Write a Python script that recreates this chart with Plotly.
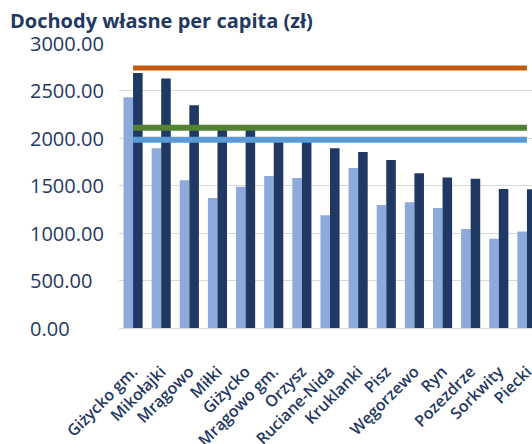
import plotly.graph_objects as go

categories = ["Giżycko gm.", "Mikołajki", "Mrągowo", "Miłki", "Giżycko", "Mrągowo gm.",
              "Orzysz", "Ruciane-Nida", "Kruklanki", "Pisz", "Węgorzewo", "Ryn",
              "Pozezdrze", "Sorkwity", "Piecki"]
values_earlier = [2430, 1892, 1555, 1368, 1487, 1600, 1579, 1186, 1685, 1294, 1323, 1263, 1041, 939, 1017]
values_later = [2683, 2627, 2346, 2120, 2100, 1990, 1970, 1892, 1853, 1769, 1628, 1583, 1572, 1463, 1460]
avg_orange = 2736
avg_green = 2107
avg_blue = 1982
y_ticks = [0, 500, 1000, 1500, 2000, 2500, 3000]
y_tick_labels = ["0.00", "500.00", "1000.00", "1500.00", "2000.00", "2500.00", "3000.00"]

NAVY = "#1F3864"
n = len(categories)
W, H = 532, 444
ML = 119

fig = go.Figure()
fig.add_trace(go.Bar(x=categories, y=values_earlier, name="Okres 1",
                     marker=dict(color="#8EA9DB", line=dict(width=0))))
fig.add_trace(go.Bar(x=categories, y=values_later, name="Okres 2",
                     marker=dict(color=NAVY, line=dict(width=0))))
fig.add_trace(go.Scatter(x=categories, y=[avg_orange] * n, mode="lines", name="Średnia A",
                         line=dict(color="#C55A11", width=5)))
fig.add_trace(go.Scatter(x=categories, y=[avg_green] * n, mode="lines", name="Średnia B",
                         line=dict(color="#548235", width=6)))
fig.add_trace(go.Scatter(x=categories, y=[avg_blue] * n, mode="lines", name="Średnia C",
                         line=dict(color="#5B9BD5", width=6)))

plot_w = W - ML
for v, lab in zip(y_ticks, y_tick_labels):
    fig.add_annotation(x=(28 - ML) / plot_w, xref="paper", xanchor="left",
                       y=v, yref="y", yanchor="middle", text=lab, showarrow=False,
                       font=dict(family="Open Sans", size=20, color=NAVY))

fig.update_layout(
    width=W, height=H,
    margin=dict(l=ML, r=0, t=43, b=116),
    paper_bgcolor="white", plot_bgcolor="white",
    barmode="group", bargap=0.32, bargroupgap=0,
    showlegend=False,
    font=dict(family="Open Sans", color=NAVY),
    title=dict(text="<b>Dochody własne per capita (zł)</b>",
               x=10 / W, xanchor="left", xref="container",
               y=1 - 21 / H, yanchor="middle", yref="container",
               font=dict(family="Open Sans", size=20, color=NAVY)),
)
fig.update_xaxes(range=[-0.5, 14.18], tickangle=-45, showgrid=False, automargin=False,
                 showline=True, linecolor="#D9D9D9", linewidth=1, ticklabelstandoff=27,
                 tickfont=dict(family="Open Sans", size=16, color=NAVY, weight=600))
fig.update_yaxes(range=[0, 3000], tickvals=y_ticks, showticklabels=False, automargin=False,
                 showgrid=True, gridcolor="#D9D9D9", gridwidth=1,
                 zeroline=False, showline=False)

fig.write_html("out.html", config={"displayModeBar": False},
               post_script="document.body.style.margin='0';document.body.style.overflow='hidden';")
